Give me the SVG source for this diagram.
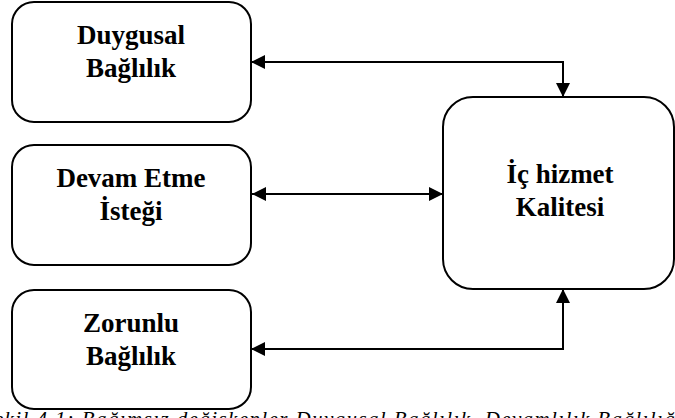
<svg xmlns="http://www.w3.org/2000/svg" width="675" height="418" viewBox="0 0 675 418">
<defs>
<style>
.box{fill:#fff;stroke:#000;stroke-width:2}
.lbl{font-family:"Liberation Serif","Times New Roman",serif;font-weight:bold;font-size:27px;text-anchor:middle;fill:#000}
.con{fill:none;stroke:#000;stroke-width:2}
.cap{font-family:"Liberation Serif","Times New Roman",serif;font-style:italic;font-size:21px;fill:#000}
</style>
<marker id="ah" viewBox="0 0 14 14" refX="14" refY="7" markerWidth="14" markerHeight="14" markerUnits="userSpaceOnUse" orient="auto-start-reverse">
<path d="M0,0 L14,7 L0,14 Z" fill="#000"/>
</marker>
</defs>
<rect width="675" height="418" fill="#fff"/>
<g id="connectors">
<path class="con" d="M251,62 H563 V97" marker-start="url(#ah)" marker-end="url(#ah)"/>
<path class="con" d="M252,194 H443" marker-start="url(#ah)" marker-end="url(#ah)"/>
<path class="con" d="M251,349 H563 V289" marker-start="url(#ah)" marker-end="url(#ah)"/>
</g>
<g id="duygusal">
<rect class="box" x="12" y="2" width="239" height="120" rx="22" ry="22"/>
<text class="lbl" x="131" y="44">Duygusal</text>
<text class="lbl" x="131" y="77">Bağlılık</text>
</g>
<g id="devam">
<rect class="box" x="12" y="145" width="239" height="120" rx="22" ry="22"/>
<text class="lbl" x="131" y="187">Devam Etme</text>
<text class="lbl" x="131" y="220">İsteği</text>
</g>
<g id="zorunlu">
<rect class="box" x="12" y="290" width="239" height="119" rx="22" ry="22"/>
<text class="lbl" x="131" y="332">Zorunlu</text>
<text class="lbl" x="131" y="365">Bağlılık</text>
</g>
<g id="kalite">
<rect class="box" x="443" y="97" width="231" height="192" rx="30" ry="30"/>
<text class="lbl" x="560" y="183">İç hizmet</text>
<text class="lbl" x="560" y="216">Kalitesi</text>
</g>
<text class="cap" x="-18" y="426" textLength="700" lengthAdjust="spacing">Şekil 4.1: Bağımsız değişkenler  Duygusal Bağlılık, Devamlılık Bağlılığı</text>
</svg>
